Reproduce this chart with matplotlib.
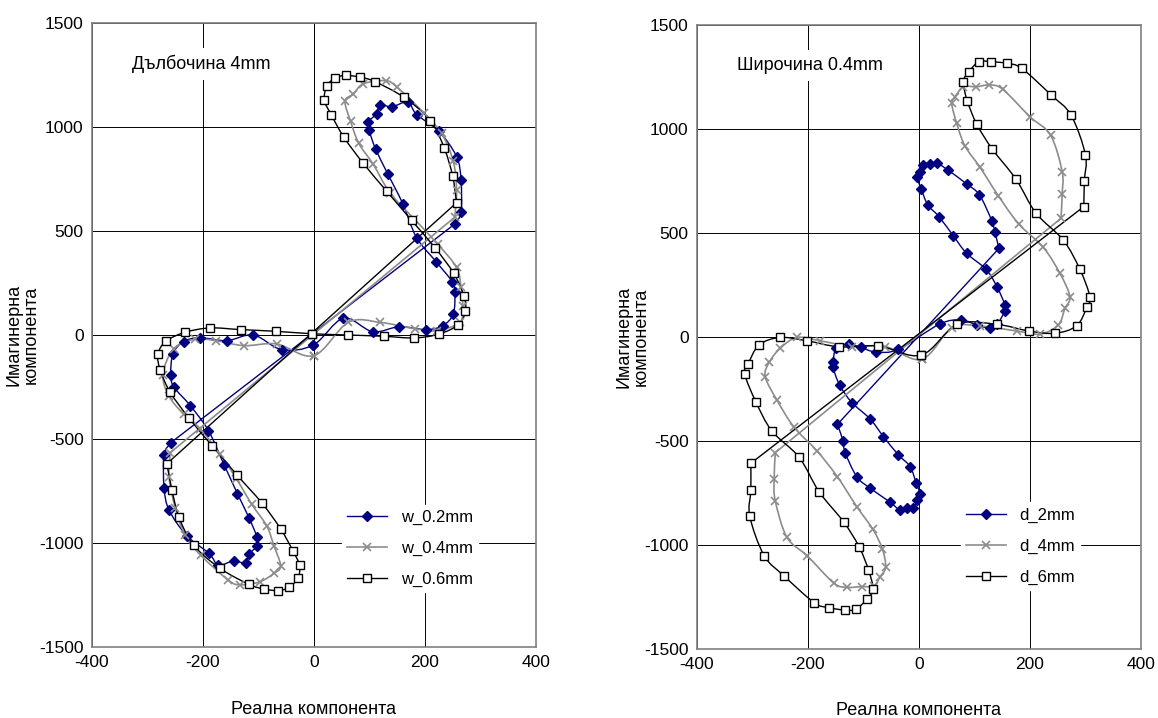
import matplotlib
matplotlib.use("Agg")
import numpy as np
import matplotlib.pyplot as plt
from matplotlib.path import Path
from matplotlib.patches import PathPatch

plt.rcParams['font.family'] = ['Liberation Sans', 'DejaVu Sans']
plt.rcParams['font.size'] = 12
plt.rcParams['axes.unicode_minus'] = False

# ---- left panel: depth 4mm, varying width ----
w02_x = [-1, 53, 106, 154, 202, 232, 251, 254, 249, 220, 185, 160, 133, 111, 99, 98, 113, 119, 140, 169,
         185, 225, 257, 265, 265, 254, -258, -270, -270, -261, -229, -189, -172, -144, -123, -117, -103,
         -103, -117, -138, -162, -190, -223, -252, -258, -254, -235, -205, -157, -109, -58, -1]
w02_y = [-48, 80, 16, 40, 26, 45, 101, 205, 257, 353, 468, 632, 775, 895, 988, 1025, 1064, 1108, 1097, 1120,
         1060, 980, 858, 745, 591, 534, -518, -575, -734, -842, -965, -1050, -1106, -1085, -1098, -1053, -1015,
         -970, -879, -762, -623, -460, -339, -251, -192, -91, -32, -13, -27, 0, -70, -48]

w04_x = [0, 62, 119, 182, 221, 263, 268, 265, 257, 223, 180, 137, 107, 81, 66, 56, 71, 89, 129, 150, 198,
         230, 251, 257, 254, -259, -261, -250, -232, -204, -154, -133, -98, -72, -60, -72, -85, -112, -140,
         -170, -205, -235, -261, -272, -253, -215, -177, -126, -67, 0]
w04_y = [-99, 61, 61, 30, 21, 61, 141, 230, 325, 437, 560, 684, 820, 921, 1028, 1124, 1159, 1208, 1223, 1191,
         1068, 969, 836, 695, 567, -566, -683, -830, -963, -1059, -1179, -1201, -1187, -1146, -1110, -1014,
         -918, -814, -690, -570, -450, -380, -294, -190, -67, -20, -27, -51, -43, -99]

w06_x = [-3, 62, 126, 181, 226, 260, 273, 270, 252, 218, 176, 131, 89, 54, 31, 19, 23, 38, 57, 83, 110,
         162, 210, 235, 250, 257, -265, -256, -243, -217, -169, -117, -90, -64, -45, -29, -26, -38, -60,
         -94, -138, -183, -225, -259, -277, -281, -267, -232, -187, -132, -69, -3]
w06_y = [6, 0, -6, -14, 5, 50, 114, 189, 296, 420, 551, 692, 825, 951, 1060, 1128, 1196, 1236, 1248, 1240,
         1218, 1143, 1031, 897, 764, 636, -619, -743, -877, -1010, -1122, -1199, -1221, -1229, -1213, -1170,
         -1108, -1037, -932, -807, -675, -534, -400, -275, -168, -93, -30, 13, 34, 26, 18, 6]

# ---- right panel: width 0.4mm, varying depth ----
d2_x = [37, 76, 104, 128, 141, 155, 155, 141, 121, 86, 62, 36, 16, 4, -4, 1, 8, 20, 33, 52, 86, 109, 131,
        137, 144, -147, -137, -133, -112, -88, -53, -35, -21, -10, -3, 2, -5, -16, -37, -64, -88, -121,
        -143, -155, -155, -149, -127, -105, -77, -37, 37]
d2_y = [62, 82, 58, 42, 61, 127, 154, 239, 325, 402, 486, 579, 635, 712, 771, 795, 827, 832, 835, 803, 736,
        683, 560, 503, 426, -420, -498, -556, -672, -727, -792, -830, -823, -823, -783, -755, -703, -623,
        -567, -479, -394, -315, -231, -146, -119, -54, -34, -50, -72, -59, 62]

d4_x = [5, 60, 110, 176, 218, 251, 263, 272, 254, 224, 180, 143, 110, 83, 68, 59, 65, 80, 103, 127, 151,
        200, 237, 258, 258, 256, -259, -261, -259, -238, -201, -153, -129, -103, -81, -70, -60, -66, -83,
        -112, -147, -184, -225, -256, -277, -270, -250, -220, -178, -121, -61, 5]
d4_y = [-107, 45, 53, 29, 14, 58, 138, 194, 306, 431, 543, 679, 816, 918, 1027, 1123, 1155, 1204, 1203, 1212,
        1191, 1059, 971, 795, 688, 571, -556, -684, -787, -963, -1053, -1184, -1203, -1200, -1197, -1152,
        -1107, -1019, -925, -816, -672, -547, -434, -303, -191, -122, -54, -2, -18, -46, -46, -107]

d6_x = [4, 69, 140, 198, 245, 284, 303, 308, 290, 260, 211, 175, 132, 104, 87, 80, 90, 108, 129, 158, 185,
        238, 274, 300, 298, 297, -303, -303, -305, -279, -243, -189, -163, -133, -114, -94, -83, -91, -108,
        -136, -180, -216, -265, -294, -314, -308, -288, -250, -202, -144, -73, 4]
d6_y = [-87, 61, 61, 29, 18, 54, 146, 194, 325, 466, 595, 758, 904, 1024, 1136, 1228, 1276, 1324, 1324, 1316,
        1292, 1164, 1067, 875, 752, 627, -607, -736, -861, -1051, -1149, -1277, -1301, -1313, -1309, -1261,
        -1212, -1120, -1008, -888, -744, -578, -452, -311, -178, -130, -38, -2, -18, -47, -43, -87]

x_ticks = [-400, -200, 0, 200, 400]
y_ticks = [-1500, -1000, -500, 0, 500, 1000, 1500]

left_labels = ["w_0.2mm", "w_0.4mm", "w_0.6mm"]
right_labels = ["d_2mm", "d_4mm", "d_6mm"]

line_styles = [
    dict(color="#000080", linewidth=1.0),
    dict(color="#8c8c8c", linewidth=1.2),
    dict(color="black", linewidth=1.0),
]
marker_styles = [
    dict(marker="D", markersize=5, markerfacecolor="#000080", markeredgecolor="#000080"),
    dict(marker="x", markersize=6, markeredgewidth=1.2, markeredgecolor="#8c8c8c"),
    dict(marker="s", markersize=6, markerfacecolor="white", markeredgecolor="black", markeredgewidth=1.0),
]


def smooth_path(xs, ys):
    """Excel-like smoothed line through the points (closed loop, long jump kept straight)."""
    p = np.column_stack([xs, ys]).astype(float)
    n = len(p)
    norm = p / np.array([800.0, 3000.0])
    seg = np.linalg.norm(np.diff(norm, axis=0), axis=1)
    jump = int(np.argmax(seg))
    tang = np.zeros_like(p)
    for i in range(n):
        prev_i = i - 1 if i > 0 else n - 2
        next_i = i + 1 if i < n - 1 else 1
        if i == jump:
            tang[i] = p[i] - p[prev_i]
        elif i == jump + 1:
            tang[i] = p[next_i] - p[i]
        else:
            tang[i] = (p[next_i] - p[prev_i]) / 2.0
    verts = [p[0]]
    codes = [Path.MOVETO]
    for i in range(n - 1):
        if i == jump:
            verts.append(p[i + 1])
            codes.append(Path.LINETO)
            continue
        verts += [p[i] + tang[i] / 3.0, p[i + 1] - tang[i + 1] / 3.0, p[i + 1]]
        codes += [Path.CURVE4] * 3
    return Path(verts, codes)


def draw_panel(ax, series, labels, note, ylab_x, xlab_y, leg_anchor):
    for (xs, ys), lab, ls, ms in zip(series, labels, line_styles, marker_styles):
        ax.add_patch(PathPatch(smooth_path(xs, ys), facecolor="none", edgecolor=ls["color"],
                               linewidth=ls["linewidth"], zorder=3))
        ax.plot(xs, ys, linestyle="none", zorder=4, **ms)
        ax.plot([], [], label=lab, **ls, **ms)
    ax.set_xlim(-400, 400)
    ax.set_ylim(-1500, 1500)
    ax.set_xticks(x_ticks)
    ax.set_yticks(y_ticks)
    ax.grid(True, color="black", linewidth=0.7)
    ax.set_axisbelow(True)
    ax.tick_params(length=0, pad=6, labelsize=12.5)
    for sp in ax.spines.values():
        sp.set_color("#808080")
        sp.set_linewidth(1.2)
    ax.set_xlabel("Реална компонента", fontsize=13)
    ax.set_ylabel("Имагинерна\nкомпонента", fontsize=13, linespacing=1.0)
    ax.yaxis.set_label_coords(ylab_x, 0.5)
    ax.xaxis.set_label_coords(0.5, xlab_y)
    ax.text(0.09, 0.935, note, transform=ax.transAxes, fontsize=13, va="center", ha="left",
            bbox=dict(facecolor="white", edgecolor="none", pad=5), zorder=5)
    leg = ax.legend(loc="lower left", bbox_to_anchor=leg_anchor, frameon=True, fontsize=12,
                    handlelength=2.4, labelspacing=0.95, borderpad=0.3)
    leg.set_zorder(6)
    leg.get_frame().set_edgecolor("white")
    leg.get_frame().set_facecolor("white")
    leg.get_frame().set_alpha(1.0)


fig = plt.figure(figsize=(11.58, 7.18), dpi=100)
ax1 = fig.add_axes([0.0794, 0.0989, 0.3834, 0.869])
ax2 = fig.add_axes([0.6019, 0.0961, 0.3834, 0.869])

draw_panel(ax1, [(w02_x, w02_y), (w04_x, w04_y), (w06_x, w06_y)], left_labels,
           "Дълбочина 4mm", -0.117, -0.087, (0.545, 0.075))
draw_panel(ax2, [(d2_x, d2_y), (d4_x, d4_y), (d6_x, d6_y)], right_labels,
           "Широчина 0.4mm", -0.106, -0.085, (0.575, 0.082))

fig.savefig("out.png", dpi=100)
